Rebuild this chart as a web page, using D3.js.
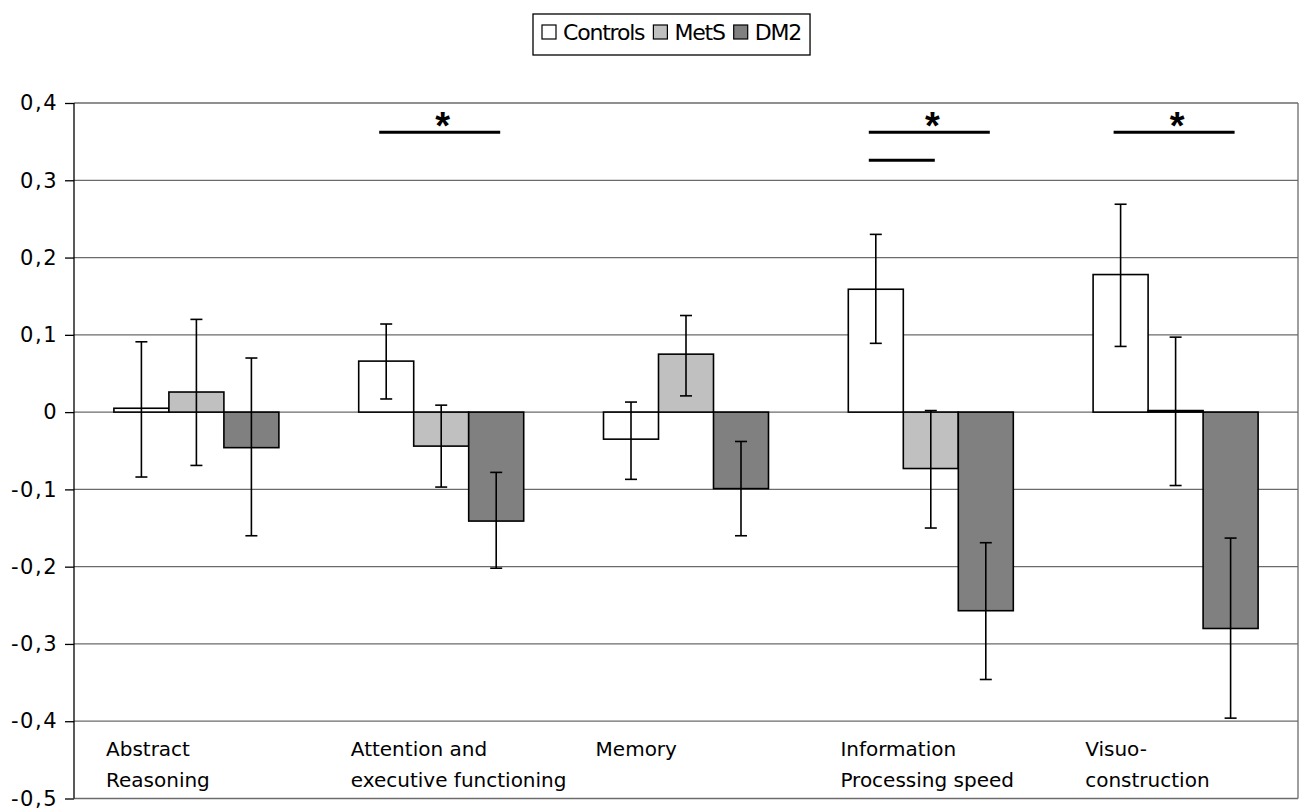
<!DOCTYPE html>
<meta charset="utf-8">
<head>
  <title>Cognitive domains by group</title>
</head>
<style>
  body { margin: 0; background: #fff; }
  svg { font-family: "DejaVu Sans", Verdana, sans-serif; }
  .grid line { stroke: #6b6b6b; stroke-width: 1.3px; }
  .yaxis path, .yaxis line { stroke: #000; stroke-width: 1.3px; }
  .yaxis text { font-size: 21px; fill: #000; letter-spacing: 1.5px; }
  .bar { stroke: #000; stroke-width: 1.6px; }
  .err { stroke: #000; stroke-width: 1.6px; }
  .cat { font-size: 20px; fill: #000; }
  .legend text { font-size: 22px; fill: #000; letter-spacing: -1.2px; }
</style>
<body>
<script src="https://cdn.jsdelivr.net/npm/d3@7"></script>
<script>
// data
var categories = ["Abstract Reasoning", "Attention and executive functioning", "Memory",
                  "Information Processing speed", "Visuo-construction"];
var catLines = [["Abstract", "Reasoning"], ["Attention and", "executive functioning"], ["Memory"],
                ["Information", "Processing speed"], ["Visuo-", "construction"]];
var groups = ["Controls", "MetS", "DM2"];
var groupColors = ["#ffffff", "#c0c0c0", "#808080"];

var controlsMean = [0.005, 0.066, -0.035, 0.159, 0.178];
var controlsHigh = [0.091, 0.114, 0.013, 0.230, 0.269];
var controlsLow  = [-0.084, 0.017, -0.087, 0.089, 0.085];

var metsMean = [0.026, -0.044, 0.075, -0.073, 0.002];
var metsHigh = [0.120, 0.009, 0.125, 0.002, 0.097];
var metsLow  = [-0.069, -0.097, 0.021, -0.150, -0.095];

var dm2Mean = [-0.046, -0.141, -0.099, -0.257, -0.280];
var dm2High = [0.070, -0.078, -0.038, -0.169, -0.163];
var dm2Low  = [-0.160, -0.202, -0.160, -0.346, -0.396];

var yTicks = [0.4, 0.3, 0.2, 0.1, 0, -0.1, -0.2, -0.3, -0.4, -0.5];
var yTickLabels = ["0,4", "0,3", "0,2", "0,1", "0", "-0,1", "-0,2", "-0,3", "-0,4", "-0,5"];

// significance bars: category, from group, to group, level, star
var sigLines = [
  {cat: 1, from: 0, to: 2, level: 0.362, star: true},
  {cat: 3, from: 0, to: 2, level: 0.362, star: true},
  {cat: 3, from: 0, to: 1, level: 0.326, star: false},
  {cat: 4, from: 0, to: 2, level: 0.362, star: true}
];

var means = [controlsMean, metsMean, dm2Mean],
    highs = [controlsHigh, metsHigh, dm2High],
    lows  = [controlsLow, metsLow, dm2Low];

var rows = [];
categories.forEach(function(c, i) {
  groups.forEach(function(g, j) {
    rows.push({cat: c, ci: i, group: g, gi: j, v: means[j][i], hi: highs[j][i], lo: lows[j][i]});
  });
});

var W = 1306, H = 809,
    plotL = 74, plotR = 1298, plotT = 103, plotB = 798.5;

var svg = d3.select("body").append("svg")
    .attr("width", W)
    .attr("height", H);

var x = d3.scaleBand().domain(categories).range([plotL, plotR])
    .paddingInner(0.326).paddingOuter(0.163);
var xs = d3.scaleBand().domain(groups).range([0, x.bandwidth()]);
var y = d3.scaleLinear().domain([-0.5, 0.4]).range([plotB, plotT]);

// grid lines
svg.append("g").attr("class", "grid")
  .selectAll("line")
  .data(yTicks)
  .enter().append("line")
    .attr("x1", plotL).attr("x2", plotR)
    .attr("y1", function(d) { return y(d); })
    .attr("y2", function(d) { return y(d); });

svg.append("line")
    .attr("x1", plotR).attr("x2", plotR)
    .attr("y1", y(0.4)).attr("y2", y(-0.5))
    .style("stroke", "#6b6b6b").style("stroke-width", "1.3px");

// bars
svg.selectAll(".bar")
    .data(rows)
  .enter().append("rect")
    .attr("class", "bar")
    .attr("x", function(d) { return x(d.cat) + xs(d.group); })
    .attr("width", xs.bandwidth())
    .attr("y", function(d) { return y(Math.max(0, d.v)); })
    .attr("height", function(d) { return Math.abs(y(d.v) - y(0)); })
    .style("fill", function(d) { return groupColors[d.gi]; });

// error bars
var cx = function(d) { return x(d.cat) + xs(d.group) + xs.bandwidth() / 2; };
var eb = svg.append("g").selectAll("g")
    .data(rows)
  .enter().append("g").attr("class", "err");
eb.append("line")
    .attr("x1", cx).attr("x2", cx)
    .attr("y1", function(d) { return y(d.hi); })
    .attr("y2", function(d) { return y(d.lo); });
eb.append("line")
    .attr("x1", function(d) { return cx(d) - 6; }).attr("x2", function(d) { return cx(d) + 6; })
    .attr("y1", function(d) { return y(d.hi); }).attr("y2", function(d) { return y(d.hi); });
eb.append("line")
    .attr("x1", function(d) { return cx(d) - 6; }).attr("x2", function(d) { return cx(d) + 6; })
    .attr("y1", function(d) { return y(d.lo); }).attr("y2", function(d) { return y(d.lo); });

// y axis
var yAxis = d3.axisLeft(y)
    .tickValues(yTicks)
    .tickSize(9)
    .tickPadding(7)
    .tickFormat(function(d, i) { return yTickLabels[i]; });
svg.append("g")
    .attr("class", "yaxis")
    .attr("transform", "translate(" + plotL + ",0)")
    .call(yAxis)
    .call(function(g) { g.select(".domain").attr("d", "M0," + y(0.4) + "V" + y(-0.5)); })
    .selectAll("text").style("font-family", "DejaVu Sans");

// category labels
var step = x.step();
svg.selectAll(".cat")
    .data(categories)
  .enter().append("text")
    .attr("class", "cat")
    .attr("x", function(d) { return x(d) - step * x.paddingInner() / 2 + 32; })
    .attr("y", 756)
    .each(function(d, i) {
      var t = d3.select(this);
      catLines[i].forEach(function(line, k) {
        t.append("tspan")
          .attr("x", t.attr("x"))
          .attr("dy", k === 0 ? 0 : 31)
          .text(line);
      });
    });

// significance markers
var sg = svg.append("g").selectAll("g")
    .data(sigLines)
  .enter().append("g");
var sx1 = function(d) { var c = categories[d.cat]; return x(c) + xs(groups[d.from]) + xs.bandwidth() / 2 - 7; };
var sx2 = function(d) { var c = categories[d.cat]; return x(c) + xs(groups[d.to]) + xs.bandwidth() / 2 + 4; };
sg.append("line")
    .attr("x1", sx1).attr("x2", sx2)
    .attr("y1", function(d) { return y(d.level); })
    .attr("y2", function(d) { return y(d.level); })
    .style("stroke", "#000").style("stroke-width", "3px");
sg.filter(function(d) { return d.star; }).append("text")
    .attr("x", function(d) { return (sx1(d) + sx2(d)) / 2 + 3; })
    .attr("y", function(d) { return y(d.level) + 7; })
    .attr("text-anchor", "middle")
    .style("font-size", "38px")
    .style("font-weight", "bold")
    .style("font-family", "Liberation Sans, Arial, sans-serif")
    .text("*");

// legend, laid out left to right
var lg = svg.append("g").attr("class", "legend");
var box = lg.append("rect")
    .attr("x", 533).attr("y", 14)
    .attr("width", 273).attr("height", 41)
    .style("fill", "#fff").style("stroke", "#000").style("stroke-width", "1.3px");
var lx = 542;
groups.forEach(function(g, i) {
  lg.append("rect")
    .attr("x", lx).attr("y", 25)
    .attr("width", 14).attr("height", 14)
    .style("fill", groupColors[i]).style("stroke", "#000").style("stroke-width", "1.2px");
  var t = lg.append("text")
    .attr("x", lx + 21).attr("y", 40)
    .text(g);
  lx = lx + 21 + t.node().getComputedTextLength() + 9;
});
box.attr("width", lx - 533);
</script>
</body>
